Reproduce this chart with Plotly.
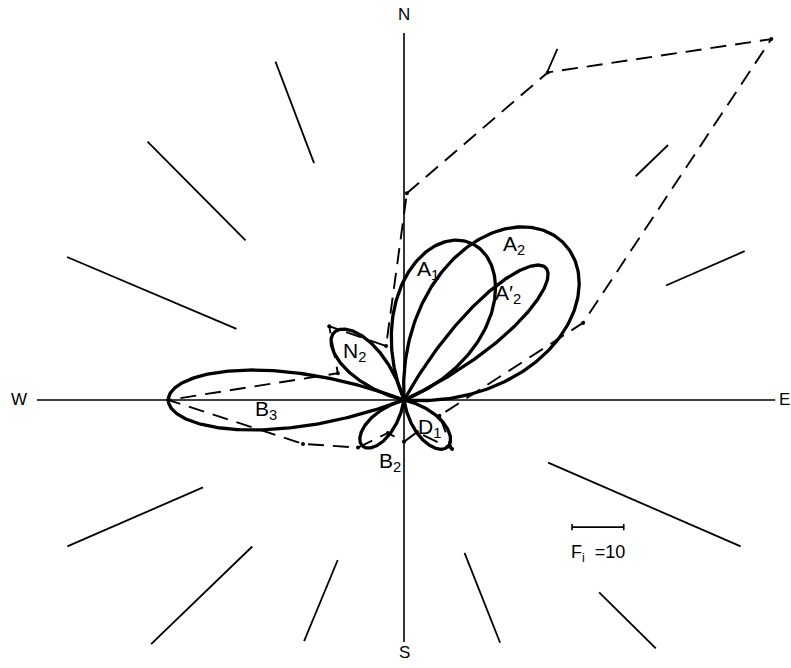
import numpy as np
import plotly.graph_objects as go

# ---- data (azimuths in degrees clockwise from N, magnitudes in F units) ----
# Force lobes
lobe_names = ["A<sub>1</sub>", "A<sub>2</sub>", "A′<sub>2</sub>", "N<sub>2</sub>",
              "B<sub>3</sub>", "B<sub>2</sub>", "D<sub>1</sub>"]
lobe_az = [23.0, 45.5, 47.0, 314.0, 270.0, 222.0, 137.0]
lobe_len = [33.0, 43.3, 37.5, 18.8, 45.6, 12.0, 12.4]
lobe_width = [18.2, 25.5, 8.3, 7.0, 11.6, 4.8, 5.2]

# Resultant envelope (dashed polygon)
env_az = [0.8, 23.7, 45.5, 66.7, 114.0, 135.6, 158.0, 180.0, 206.0, 224.0,
          246.5, 270.0, 292.0, 314.6, 341.6]
env_r = [40.0, 69.2, 99.6, 37.7, 7.5, 13.3, 6.7, 8.1, 7.1, 12.8,
         21.3, 45.6, 13.8, 20.3, 11.0]

# Direction marks (intermediate compass points)
mark_az = [23.6, 46.0, 66.4, 113.5, 134.6, 158.4, 202.5, 226.0, 246.5, 293.0, 315.2, 339.2]
mark_r_in = [69.2, 62.3, 55.3, 30.4, 53.0, 31.8, 33.5, 40.8, 42.4, 35.2, 43.5, 49.0]
mark_r_out = [74.1, 71.0, 71.9, 71.0, 68.4, 50.5, 50.5, 68.0, 71.0, 70.8, 70.4, 70.0]

# Compass axes
compass_labels = ["N", "E", "S", "W"]
compass_az = [0.0, 90.0, 180.0, 270.0]
compass_reach = [71.0, 71.8, 46.8, 71.0]

scale_value = 10.0


def polar_xy(az_deg, r):
    a = np.radians(np.asarray(az_deg, dtype=float))
    r = np.asarray(r, dtype=float)
    return r * np.sin(a), r * np.cos(a)


def petal_half_angle(length, width):
    """Half-angle of a rose-type petal whose greatest breadth equals width."""
    ratio = width / length
    lo, hi = 1e-3, np.pi / 2
    for _ in range(60):
        mid = 0.5 * (lo + hi)
        phi = np.linspace(0, mid, 400)
        breadth = 2 * np.max(np.cos(np.pi * phi / (2 * mid)) * np.sin(phi))
        if breadth < ratio:
            lo = mid
        else:
            hi = mid
    return 0.5 * (lo + hi)


def petal(az_deg, length, width, n=240):
    half = petal_half_angle(length, width)
    phi = np.linspace(-half, half, n)
    r = length * np.cos(np.pi * phi / (2 * half))
    th = np.radians(az_deg) + phi
    return r * np.sin(th), r * np.cos(th)


fig = go.Figure()

# compass axes
for lab, az, reach in zip(compass_labels, compass_az, compass_reach):
    x, y = polar_xy([az, az], [0, reach])
    fig.add_trace(go.Scatter(x=x, y=y, mode="lines",
                             line=dict(color="black", width=1.6),
                             hoverinfo="skip", showlegend=False))

# direction marks
for az, r0, r1 in zip(mark_az, mark_r_in, mark_r_out):
    x, y = polar_xy([az, az], [r0, r1])
    fig.add_trace(go.Scatter(x=x, y=y, mode="lines",
                             line=dict(color="black", width=1.8),
                             hoverinfo="skip", showlegend=False))

# envelope
ex, ey = polar_xy(env_az + env_az[:1], env_r + env_r[:1])
fig.add_trace(go.Scatter(x=ex, y=ey, mode="lines",
                         line=dict(color="black", width=1.9, dash="16px,9px"),
                         hoverinfo="skip", showlegend=False))
fig.add_trace(go.Scatter(x=ex[:-1], y=ey[:-1], mode="markers",
                         marker=dict(color="black", size=4),
                         hoverinfo="skip", showlegend=False))

# lobes
for name, az, L, W in zip(lobe_names, lobe_az, lobe_len, lobe_width):
    x, y = petal(az, L, W)
    fig.add_trace(go.Scatter(x=x, y=y, mode="lines", name=name,
                             line=dict(color="black", width=3.3),
                             hoverinfo="skip", showlegend=False))

# lobe labels
lobe_label_pos = [(4.6, 25.1), (21.3, 30.0), (20.1, 20.5), (-9.5, 9.3),
                  (-26.7, -1.9), (-2.7, -12.0), (5.0, -5.4)]
for name, (lx, ly) in zip(lobe_names, lobe_label_pos):
    fig.add_annotation(x=lx, y=ly, text=name, showarrow=False,
                       font=dict(family="Liberation Sans", size=21, color="black"))

# compass letters
compass_label_offset = [3.5, 1.8, 2.0, 3.5]
for lab, az, reach, off in zip(compass_labels, compass_az, compass_reach, compass_label_offset):
    x, y = polar_xy([az], [reach + off])
    fig.add_annotation(x=float(x[0]), y=float(y[0]), text=lab, showarrow=False,
                       font=dict(family="Liberation Sans", size=17, color="black"))

# scale bar
sx0, sy0 = 32.5, -24.6
fig.add_trace(go.Scatter(x=[sx0, sx0 + scale_value], y=[sy0, sy0], mode="lines",
                         line=dict(color="black", width=1.6),
                         hoverinfo="skip", showlegend=False))
for xe in (sx0, sx0 + scale_value):
    fig.add_trace(go.Scatter(x=[xe, xe], y=[sy0 - 0.6, sy0 + 0.6], mode="lines",
                             line=dict(color="black", width=1.6),
                             hoverinfo="skip", showlegend=False))
fig.add_annotation(x=sx0 + scale_value / 2, y=sy0 - 5.0,
                   text=f"F<sub>i</sub>  ={scale_value:g}", showarrow=False,
                   font=dict(family="Liberation Sans", size=18, color="black"))

fig.update_layout(
    width=791, height=668,
    margin=dict(l=0, r=0, t=0, b=0),
    paper_bgcolor="white", plot_bgcolor="white",
    xaxis=dict(range=[-78.14, 74.85], visible=False, showgrid=False, zeroline=False),
    yaxis=dict(range=[-51.84, 77.37], visible=False, showgrid=False, zeroline=False),
)

fig.write_html("out.html")
